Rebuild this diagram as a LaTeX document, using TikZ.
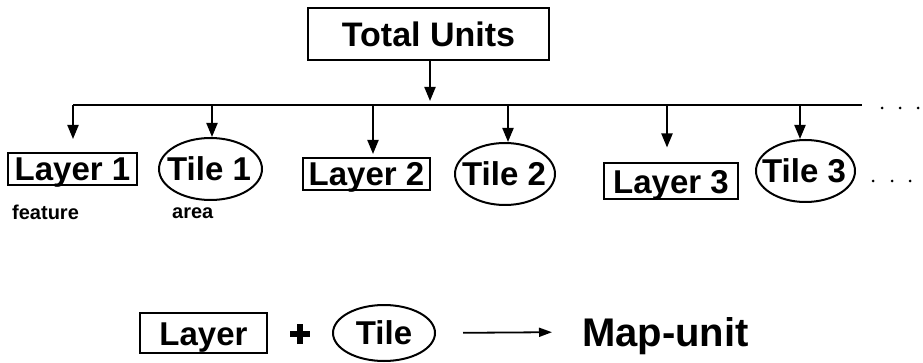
\documentclass[tikz,border=0pt]{standalone}
\usepackage{fontspec}
\setmainfont{Liberation Sans}
\usetikzlibrary{arrows.meta,shapes.geometric}
\tikzset{
  lab/.style={font=\fontsize{33}{33}\selectfont\bfseries, inner sep=0pt, text height=23.5pt, text depth=0pt},
  layerbox/.style={draw, line width=2pt, rectangle, inner xsep=0pt, inner ysep=0pt, font=\fontsize{33}{33}\selectfont\bfseries},
  tileshape/.style={draw, line width=2pt, ellipse, inner sep=0pt},
  arr/.style={line width=2pt, -{Triangle[width=11pt,length=14pt]}},
  small/.style={font=\fontsize{20}{20}\selectfont\bfseries, inner sep=0pt},
  dot/.style={fill, circle, inner sep=0pt, minimum size=3pt}
}
\begin{document}
\begin{tikzpicture}[x=1pt,y=-1pt]
\useasboundingbox (0,0) rectangle (923,363);
% top
\node[layerbox, minimum width=241pt, text height=25pt, text depth=0pt, minimum height=52pt, font=\fontsize{34}{34}\selectfont\bfseries] (tot) at (428.5,34) {Total Units};
\coordinate (bL) at (73,105);
\coordinate (bR) at (862,105);
\coordinate (bT) at (430,105);
\draw[line width=2.5pt] (bL) -- (bR);
\draw[arr, shorten >=4pt] (tot.south -| bT) -- (bT);
% nodes
\node[layerbox, minimum width=129pt, text height=28pt, text depth=4pt] (l1) at (72.5,169) {Layer 1};
\node[tileshape, minimum width=103pt, minimum height=62pt] (t1) at (210.5,169) {};
\node[lab] (t1txt) at (209,169) {Tile 1};
\node[layerbox, minimum width=127pt, text height=28pt, text depth=4pt] (l2) at (366.5,174) {Layer 2};
\node[tileshape, minimum width=100pt, minimum height=62pt] (t2) at (505,174) {};
\node[lab] (t2txt) at (504,174) {Tile 2};
\node[layerbox, minimum width=134pt, text height=30pt, text depth=6pt] (l3) at (671,181.5) {Layer 3};
\node[tileshape, minimum width=99pt, minimum height=62pt] (t3) at (805.5,171) {};
\node[lab] (t3txt) at (804,171) {Tile 3};
% drops
\coordinate (d1) at (73,105);
\coordinate (d2) at (212,105);
\coordinate (d3) at (373,105);
\coordinate (d4) at (508,105);
\coordinate (d5) at (667,105);
\coordinate (d6) at (800,105);
\draw[arr, shorten >=13pt] (d1) -- (d1 |- l1.north);
\draw[arr] (d2) -- (d2 |- t1.north);
\draw[arr, shorten >=3pt] (d3) -- (d3 |- l2.north);
\draw[arr] (d4) -- (d4 |- t2.north);
\draw[arr, shorten >=15pt] (d5) -- (d5 |- l3.north);
\draw[arr] (d6) -- (d6 |- t3.north);
% dots
\node[dot] (p1) at (882,108) {};
\node[dot] (p2) at (900,108) {};
\node[dot] (p3) at (918,108) {};
\node[dot] (q1) at (873,181) {};
\node[dot] (q2) at (892,181) {};
\node[dot] (q3) at (910,181) {};
% small labels
\node[small, anchor=west] (feat) at (12,212) {feature};
\node[small, anchor=west] (area) at (172,213) {area};
% bottom
\node[layerbox, minimum width=127pt, text height=32pt, text depth=8pt] (lb) at (203.5,333) {Layer};
\coordinate (plus) at (300,334);
\draw[line width=5.5pt] ([xshift=-10pt]plus) -- ([xshift=10pt]plus);
\draw[line width=5.5pt] ([yshift=-10pt]plus) -- ([yshift=10pt]plus);
\node[tileshape, minimum width=102pt, minimum height=56pt] (tb) at (384,333) {};
\node[lab] (tbtxt) at (384,333) {Tile};
\node[font=\fontsize{40}{40}\selectfont\bfseries, inner sep=0pt, text height=29pt, text depth=0pt, anchor=west] (mu) at (582,332) {Map-unit};
\draw[line width=1.8pt, -{Triangle[width=9pt,length=13pt]}, shorten <=27pt, shorten >=30pt] (tb.east) -- (mu.west);
\end{tikzpicture}
\end{document}
